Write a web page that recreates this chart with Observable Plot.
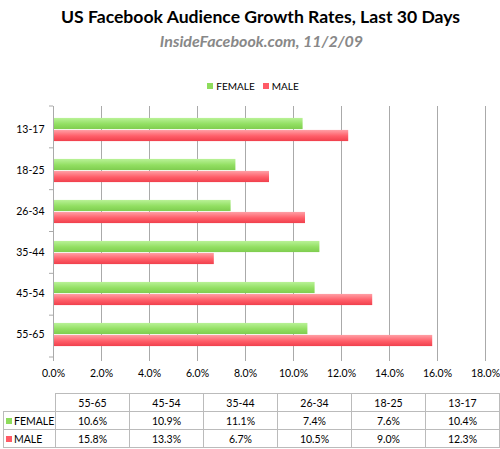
<!DOCTYPE html>
<html>
<head>
<meta charset="utf-8">
<script src="https://cdn.jsdelivr.net/npm/d3@7"></script>
<script src="https://cdn.jsdelivr.net/npm/@observablehq/plot@0.6"></script>
<style>
  html, body { margin: 0; padding: 0; background: #fff; }
  body { width: 500px; height: 449px; position: relative; overflow: hidden; font-family: Lato, "Open Sans", sans-serif; }
  #title { position: absolute; top: 6px; left: 0; width: 521px; text-align: center; font-weight: bold; font-size: 17.6px; color: #000; }
  #subtitle { position: absolute; top: 31px; left: 0; width: 523px; text-align: center; font-weight: bold; font-style: italic; font-size: 16px; color: #888; }
  #legend { position: absolute; top: 80px; left: 0; width: 506px; text-align: center; font-size: 10px; color: #000; }
  #legend span.sw { display: inline-block; width: 6px; height: 6px; margin-right: 3px; vertical-align: 1px; }
  #legend span.it { margin: 0 4px; }
  #chart { position: absolute; top: 96px; left: 0; }
  #tbl { position: absolute; top: 393px; left: 3px; border-collapse: collapse; font-size: 10.5px; }
  #tbl td { border: 1px solid #bbb; height: 17px; padding: 0; text-align: center; }
  #tbl td.lab { width: 49px; text-align: left; padding-left: 2px; }
  #tbl td.blank { border: none; border-right: 1px solid #bbb; }
  #tbl td.v { width: 73px; }
  #tbl span.sw { display: inline-block; width: 6px; height: 6px; margin-right: 2px; vertical-align: 1px; }
</style>
</head>
<body>
<div id="title">US Facebook Audience Growth Rates, Last 30 Days</div>
<div id="subtitle">InsideFacebook.com, 11/2/09</div>
<div id="legend"></div>
<div id="chart"></div>
<table id="tbl"></table>
<script>
const ages = ["13-17", "18-25", "26-34", "35-44", "45-54", "55-65"];
const female = [10.4, 7.6, 7.4, 11.1, 10.9, 10.6];
const male = [12.3, 9.0, 10.5, 6.7, 13.3, 15.8];
const seriesNames = ["FEMALE", "MALE"];
const xTicks = [0, 2, 4, 6, 8, 10, 12, 14, 16, 18];
const tableOrder = ["55-65", "45-54", "35-44", "26-34", "18-25", "13-17"];

const green = "#8edc5c";
const red = "#ff5a66";

const fData = ages.map((a, i) => ({age: a, value: female[i]}));
const mData = ages.map((a, i) => ({age: a, value: male[i]}));

const H = 295, mTop = 10, mBottom = 34;
const bandH = (H - mTop - mBottom) / ages.length;
const barH = 12;
const inset = (bandH - barH) / 2;

const plot = Plot.plot({
  width: 500,
  height: H,
  marginTop: mTop,
  marginBottom: mBottom,
  marginLeft: 53,
  marginRight: 15,
  style: {fontFamily: "Lato, 'Open Sans', sans-serif", fontSize: "10px", color: "#000", overflow: "visible"},
  x: {domain: [0, 18], ticks: xTicks, tickFormat: d => d.toFixed(1) + "%", label: null},
  y: {domain: ages, padding: 0, label: null},
  marks: [
    Plot.ruleX(xTicks.slice(1), {stroke: "#aaa", strokeWidth: 1}),
    Plot.barX(fData, {x: "value", y: "age", fill: green, insetTop: inset, insetBottom: inset, dy: -barH / 2}),
    Plot.barX(mData, {x: "value", y: "age", fill: red, insetTop: inset, insetBottom: inset, dy: barH / 2}),
    Plot.ruleX([0], {stroke: "#aaa"}),
    Plot.axisX({ticks: xTicks, tickFormat: d => d.toFixed(1) + "%", tickSize: 4, stroke: "#aaa", tickPadding: 8, fontSize: 10.5, label: null}),
    Plot.axisY({tickSize: 0, tickPadding: 9, fontSize: 10.5, label: null})
  ]
});
document.getElementById("chart").appendChild(plot);

// gradients for glossy bars
const svg = d3.select(plot);
const defs = svg.insert("defs", ":first-child");
function grad(id, top, mid, bot) {
  const g = defs.append("linearGradient").attr("id", id).attr("x1", 0).attr("y1", 0).attr("x2", 0).attr("y2", 1);
  g.append("stop").attr("offset", "0%").attr("stop-color", top);
  g.append("stop").attr("offset", "55%").attr("stop-color", mid);
  g.append("stop").attr("offset", "100%").attr("stop-color", bot);
}
grad("gGreen", "#b9f297", "#92df62", "#7fcd4f");
grad("gRed", "#ffa0a6", "#ff5e69", "#f0404c");
svg.selectAll("g[aria-label='bar']").each(function(d, i) {
  this.setAttribute("fill", i === 0 ? "url(#gGreen)" : "url(#gRed)");
});

// boundary ticks on left axis
const ax = svg.append("g").attr("stroke", "#aaa");
for (let i = 0; i <= ages.length; i++) {
  const yy = mTop + i * bandH;
  ax.append("line").attr("x1", 49).attr("x2", 53).attr("y1", yy).attr("y2", yy);
}

// legend
const legend = document.getElementById("legend");
legend.innerHTML = seriesNames.map((n, i) =>
  `<span class="it"><span class="sw" style="background:${i === 0 ? green : red}"></span>${n}</span>`).join("");

// table
const tbl = document.getElementById("tbl");
let html = `<tr><td class="blank lab"></td>${tableOrder.map(a => `<td class="v">${a}</td>`).join("")}</tr>`;
const rows = [female, male];
rows.forEach((vals, r) => {
  html += `<tr><td class="lab"><span class="sw" style="background:${r === 0 ? green : red}"></span>${seriesNames[r]}</td>` +
    tableOrder.map(a => `<td class="v">${vals[ages.indexOf(a)].toFixed(1)}%</td>`).join("") + `</tr>`;
});
tbl.innerHTML = html;
</script>
</body>
</html>
